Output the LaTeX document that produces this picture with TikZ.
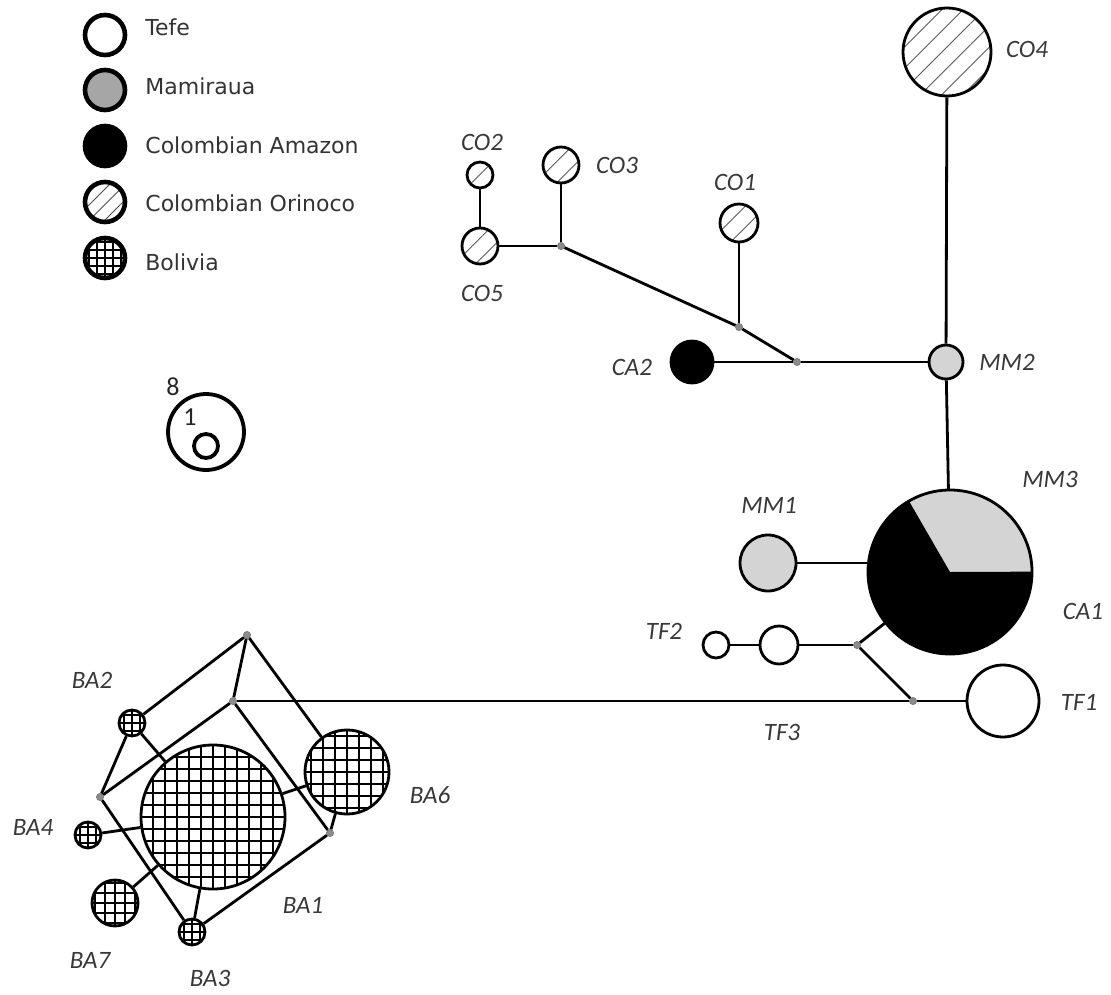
\documentclass[tikz,border=0pt]{standalone}
\usepackage{fontspec}
\setmainfont{DejaVu Sans}
\newfontfamily\labfont{Carlito}
\usetikzlibrary{patterns.meta}
\begin{document}
\begin{tikzpicture}[x=0.5pt,y=-0.5pt,
  hap/.style={circle,draw=black,line width=1.4pt,inner sep=0pt,minimum size=#1},
  tefe/.style={hap=#1,fill=white},
  mami/.style={hap=#1,fill=black!17},
  camaz/.style={hap=#1,fill=black},
  orin/.style={hap=#1,pattern={Lines[angle=45,distance=7.5pt,line width=0.45pt]},pattern color=black!65},
  boli/.style 2 args={hap=#1,fill=white,path picture={\draw[line width=0.6pt] (path picture bounding box.south west) grid[step=#2] (path picture bounding box.north east);}},
  jn/.style={circle,fill=black!45,draw=black!55,line width=0.3pt,minimum size=3.6pt,inner sep=0pt},
  link/.style={line width=1.4pt},
  lab/.style={font=\labfont\itshape\fontsize{12.5}{14}\selectfont,text=black!78,inner sep=0pt},
  legc/.style={circle,draw=black,line width=2.3pt,inner sep=0pt,minimum size=20pt},
  legt/.style={anchor=west,font=\fontsize{11}{13}\selectfont,text=black!80,inner sep=0pt},
  num/.style={font=\labfont\fontsize{13}{15}\selectfont,text=black!85,inner sep=0pt}]
\useasboundingbox (0,0) rectangle (1111,994);

% ---------------- legend ----------------
\node[legc,fill=white] (lg1) at (105,35) {};
\node[legc,fill=black!35] (lg2) at (105,90) {};
\node[legc,fill=black] (lg3) at (105,146) {};
\node[legc,pattern={Lines[angle=45,distance=5.5pt,line width=0.45pt]},pattern color=black!70] (lg4) at (105,202) {};
\node[legc,fill=white,path picture={\draw[line width=0.55pt] (path picture bounding box.south west) grid[step=4pt] (path picture bounding box.north east);}] (lg5) at (105,258) {};
\node[legt] (lt1) at (145,27) {Tefe};
\node[legt] (lt2) at (145,86) {Mamiraua};
\node[legt] (lt3) at (145,145) {Colombian Amazon};
\node[legt] (lt4) at (145,203) {Colombian Orinoco};
\node[legt] (lt5) at (145,262) {Bolivia};

% scale
\node[circle,draw=black,line width=1.9pt,minimum size=38pt,inner sep=0pt] (sc8) at (206,432) {};
\node[circle,draw=black,line width=1.9pt,minimum size=12pt,inner sep=0pt] (sc1) at (206,446) {};
\node[num] (n8) at (173,387) {8};
\node[num] (n1) at (190,417) {1};

% ---------------- Colombian Orinoco / Amazon part ----------------
\node[orin=13pt] (co2) at (480,175) {};
\node[orin=18pt] (co5) at (480,246) {};
\node[orin=18pt] (co3) at (561,165) {};
\node[orin=19pt] (co1) at (739,223) {};
\node[orin=44pt] (co4) at (947,52) {};
\node[camaz=21pt] (ca2) at (692,362) {};
\node[mami=17pt] (mm2) at (946,362) {};
\node[jn] (j1) at (561,246) {};
\node[jn] (j2) at (739,327) {};
\node[jn] (j3) at (797,362) {};

% big pie MM3 / CA1
\node[circle,minimum size=82pt,inner sep=0pt] (big) at (950,572) {};
\fill[black!17] (big.center) -- (big.0) arc[start angle=0,end angle=120,radius=41pt] -- cycle;
\fill[black] (big.center) -- (big.120) arc[start angle=120,end angle=360,radius=41pt] -- cycle;
\draw[line width=1.4pt] (big.center) circle[radius=41pt];

\node[mami=28pt] (mm1) at (768,563) {};
\node[tefe=13pt] (tf2) at (716,645) {};
\node[tefe=19pt] (tfb) at (779,645) {};
\node[tefe=36pt] (tf1) at (1003,701) {};
\node[jn] (tj1) at (857,645) {};
\node[jn] (tj2) at (913,701) {};

% ---------------- Bolivia ----------------
\node[boli={13pt}{4pt}] (ba2) at (132,723) {};
\node[boli={72pt}{6pt}] (ba1) at (213,817) {};
\node[boli={42pt}{6pt}] (ba6) at (347,772) {};
\node[boli={13pt}{4pt}] (ba4) at (88,835) {};
\node[boli={23pt}{5pt}] (ba7) at (115,903) {};
\node[boli={13pt}{4pt}] (ba3) at (192,932) {};
\node[jn] (bt) at (247,635) {};
\node[jn] (bj) at (233,701) {};
\node[jn] (bl) at (100,797) {};
\node[jn] (br) at (330,833) {};

% ---------------- connectors ----------------
\begin{scope}[link]
\draw (co2) -- (co5);
\draw (co5) -- (j1);
\draw (co3) -- (j1);
\draw (j1) -- (j2);
\draw (co1) -- (j2);
\draw (j2) -- (j3);
\draw (ca2) -- (j3);
\draw (j3) -- (mm2);
\draw (co4) -- (mm2);
\draw (mm2) -- (big);
\draw (mm1) -- (mm1 -| big.west);
\draw (tf2) -- (tfb);
\draw (tfb) -- (tj1);
\draw (tj1) -- (big);
\draw (tj1) -- (tj2);
\draw (tj2) -- (tf1);
\draw (tj2) -- (bj);
\draw (bt) -- (bj);
\draw (bt) -- (ba2);
\draw (bt) -- (ba6);
\draw (bj) -- (bl);
\draw (bj) -- (br);
\draw (ba2) -- (bl);
\draw (ba2) -- (ba1);
\draw (bl) -- (ba3);
\draw (br) -- (ba3);
\draw (br) -- (ba6);
\draw (ba1) -- (ba6);
\draw (ba4) -- (ba1);
\draw (ba7) -- (ba1);
\draw (ba3) -- (ba1);
\end{scope}

% ---------------- labels ----------------
\node[lab] (lco2) at (482,142) {CO2};
\node[lab] (lco3) at (617,165) {CO3};
\node[lab] (lco1) at (735,182) {CO1};
\node[lab] (lco5) at (482,293) {CO5};
\node[lab] (lca2) at (632,367) {CA2};
\node[lab] (lco4) at (1027,49) {CO4};
\node[lab] (lmm2) at (1007,362) {MM2};
\node[lab] (lmm3) at (1050,479) {MM3};
\node[lab] (lmm1) at (769,505) {MM1};
\node[lab] (lca1) at (1083,611) {CA1};
\node[lab] (ltf2) at (664,631) {TF2};
\node[lab] (ltf1) at (1079,702) {TF1};
\node[lab] (ltf3) at (782,732) {TF3};
\node[lab] (lba2) at (92,680) {BA2};
\node[lab] (lba4) at (33,827) {BA4};
\node[lab] (lba6) at (430,795) {BA6};
\node[lab] (lba1) at (303,905) {BA1};
\node[lab] (lba7) at (90,960) {BA7};
\node[lab] (lba3) at (210,978) {BA3};
\end{tikzpicture}
\end{document}
